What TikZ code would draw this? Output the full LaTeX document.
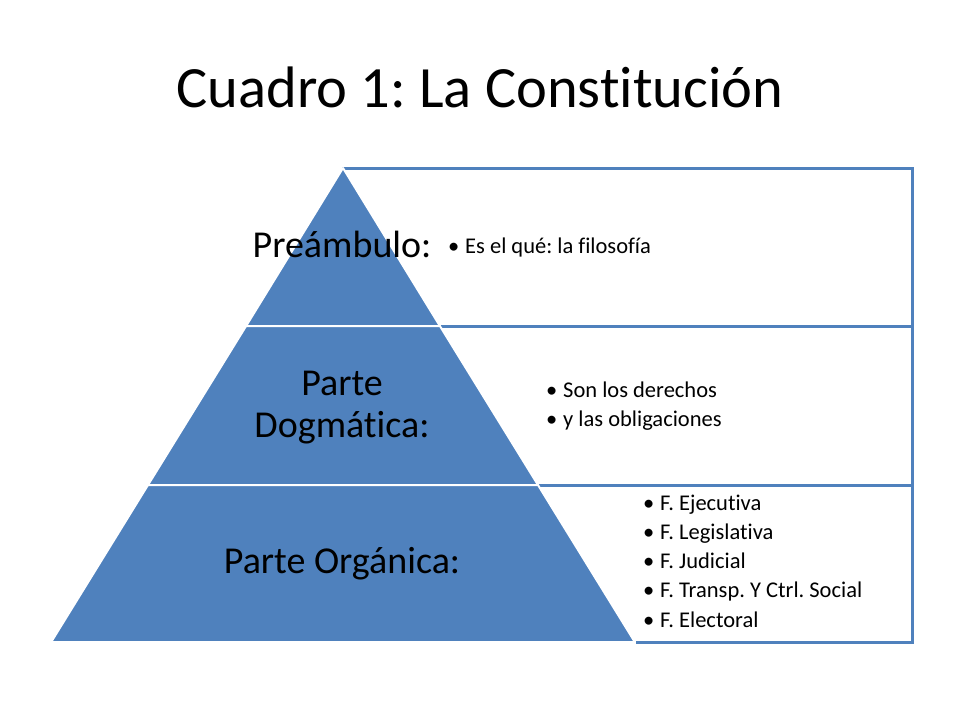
\documentclass[tikz,border=0pt]{standalone}
\usepackage{fontspec}
\setmainfont{Carlito}[Ligatures={NoCommon,NoRequired,NoContextual}]
\definecolor{obl}{HTML}{4F81BD}
\begin{document}
\frenchspacing
\begin{tikzpicture}[x=1pt,y=-1pt,
  boxline/.style={draw=obl, line width=3pt},
  layer/.style={fill=obl, draw=white, line width=2pt, line join=round},
  lbl/.style={anchor=base, inner sep=0, font=\fontsize{38}{42}\selectfont},
  bul/.style={anchor=base west, inner sep=0, font=\fontsize{22.5}{27}\selectfont},
  ttl/.style={anchor=base, inner sep=0, font=\fontsize{58.5}{64}\selectfont}]
\useasboundingbox[fill=white] (0,0) rectangle (960,720);
% title
\node[ttl] (title) at (480,107) {Cuadro 1: La Constitución};
% boxes
\draw[boxline] (343,168) rectangle (912,326);
\draw[boxline] (343,326) rectangle (912,485);
\draw[boxline] (343,485) -- (912,485) -- (912,642) -- (636,642);
% pyramid layers
\coordinate (apex) at (343,168);
\path[layer] (apex) -- (439.9,326) -- (246.1,326) -- cycle;
\path[layer] (246.1,326) -- (439.9,326) -- (538.0,485) -- (148.0,485) -- cycle;
\path[layer] (148.0,485) -- (538.0,485) -- (634.8,642) -- (51.2,642) -- cycle;
% labels
\node[lbl] (pre) at (342,257) {Preámbulo:};
\node[lbl] (dog1) at (342,395) {Parte};
\node[lbl] (dog2) at (342,437.5) {Dogmática:};
\node[lbl] (org) at (342,573) {Parte Orgánica:};
% bullet texts
\newcommand{\bl}{\llap{•\hspace{6pt}}}
\node[bul] (t1) at (465,253) {\bl Es el qué: la filosofía};
\node[bul] (t2a) at (563,397) {\bl Son los derechos};
\node[bul] (t2b) at (563,426) {\bl y las obligaciones};
\node[bul] (t3a) at (660,510) {\bl F. Ejecutiva};
\node[bul] (t3b) at (660,539.25) {\bl F. Legislativa};
\node[bul] (t3c) at (660,568.5) {\bl F. Judicial};
\node[bul] (t3d) at (660,597.75) {\bl F. Transp. Y Ctrl. Social};
\node[bul] (t3e) at (660,627) {\bl F. Electoral};
\end{tikzpicture}
\end{document}
